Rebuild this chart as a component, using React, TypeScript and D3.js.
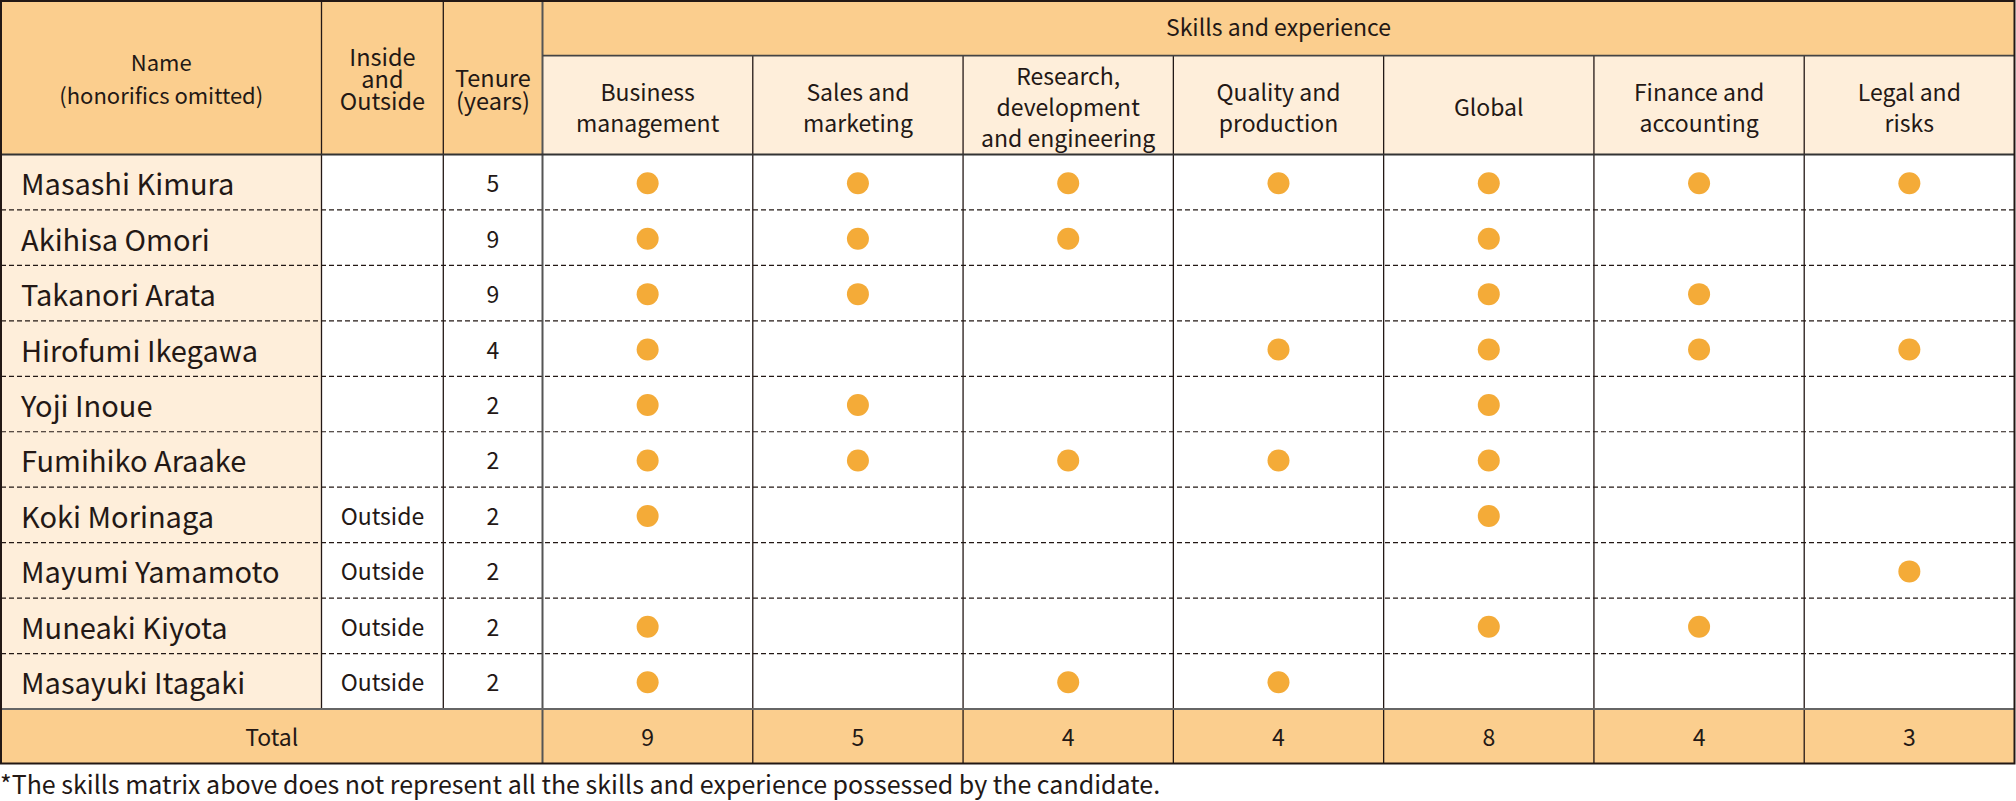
import React from "react";
import * as d3 from "d3";

const names = [
  "Masashi Kimura", "Akihisa Omori", "Takanori Arata", "Hirofumi Ikegawa", "Yoji Inoue",
  "Fumihiko Araake", "Koki Morinaga", "Mayumi Yamamoto", "Muneaki Kiyota", "Masayuki Itagaki",
];
const insideOutside = ["", "", "", "", "", "", "Outside", "Outside", "Outside", "Outside"];
const tenure = [5, 9, 9, 4, 2, 2, 2, 2, 2, 2];
const skills = [
  ["Business", "management"],
  ["Sales and", "marketing"],
  ["Research,", "development", "and engineering"],
  ["Quality and", "production"],
  ["Global"],
  ["Finance and", "accounting"],
  ["Legal and", "risks"],
];
// rows: names, cols: skills (1 = has)
const matrix = [
  [1, 1, 1, 1, 1, 1, 1],
  [1, 1, 1, 0, 1, 0, 0],
  [1, 1, 0, 0, 1, 1, 0],
  [1, 0, 0, 1, 1, 1, 1],
  [1, 1, 0, 0, 1, 0, 0],
  [1, 1, 1, 1, 1, 0, 0],
  [1, 0, 0, 0, 1, 0, 0],
  [0, 0, 0, 0, 0, 0, 1],
  [1, 0, 0, 0, 1, 1, 0],
  [1, 0, 1, 1, 0, 0, 0],
];
const totals = [9, 5, 4, 4, 8, 4, 3];
const footnote = "*The skills matrix above does not represent all the skills and experience possessed by the candidate.";

const ORANGE = "#FBCE8E";
const CREAM = "#FEEEDA";
const DOT = "#F4AB38";
const INK = "#231815";
const FONT = "'Noto Sans CJK JP', 'Noto Sans', sans-serif";

export default function App() {
  const W = 2016, H = 801;
  const left = 1, right = 2014.5, top = 1;
  const xName = 321.5, xIO = 443.3, xSkill = 542.5;
  const ySub = 55.7, yHead = 154.5, yTotal = 709, yBottom = 763.5;

  const col = d3.scaleBand<number>().domain(d3.range(skills.length)).range([xSkill, right]);
  const row = d3.scaleBand<number>().domain(d3.range(names.length)).range([yHead, yTotal]);
  const cw = col.bandwidth();
  const rh = row.bandwidth();

  const multiline = (lines: string[], cx: number, cy: number, lh: number, fs: number, key: string) => (
    <text key={key} x={cx} textAnchor="middle" fontSize={fs} fill={INK} fontFamily={FONT}>
      {lines.map((l, i) => (
        <tspan key={i} x={cx} y={cy + (i - (lines.length - 1) / 2) * lh} dominantBaseline="central">{l}</tspan>
      ))}
    </text>
  );

  return (
    <svg width={W} height={H} style={{ position: "absolute", left: 0, top: 0, display: "block", background: "#fff" }}>
      {/* backgrounds */}
      <rect x={left} y={top} width={right - left} height={yHead - top} fill={ORANGE} />
      <rect x={xSkill} y={ySub} width={right - xSkill} height={yHead - ySub} fill={CREAM} />
      <rect x={left} y={yHead} width={xName - left} height={yTotal - yHead} fill={CREAM} />
      <rect x={left} y={yTotal} width={right - left} height={yBottom - yTotal} fill={ORANGE} />

      {/* header text */}
      {multiline(["Name", "(honorifics omitted)"], (left + xName) / 2, 77, 33, 22, "hn")}
      {multiline(["Inside", "and", "Outside"], (xName + xIO) / 2, 78, 22, 23.5, "hio")}
      {multiline(["Tenure", "(years)"], (xIO + xSkill) / 2, 88, 23, 23.5, "ht")}
      {multiline(["Skills and experience"], (xSkill + right) / 2, 26, 30, 23, "hs")}
      {skills.map((s, j) => multiline(s, col(j)! + cw / 2, (ySub + yHead) / 2 + 1, 31, 23, "sk" + j))}

      {/* rows */}
      {names.map((n, i) => {
        const cy = row(i)! + rh / 2;
        return (
          <g key={n}>
            <text x={21} y={cy} dominantBaseline="central" fontSize={29} fill={INK} fontFamily={FONT}>{n}</text>
            <text x={(xName + xIO) / 2} y={cy} dominantBaseline="central" textAnchor="middle" fontSize={23} fill={INK} fontFamily={FONT}>{insideOutside[i]}</text>
            <text x={(xIO + xSkill) / 2} y={cy} dominantBaseline="central" textAnchor="middle" fontSize={23} fill={INK} fontFamily={FONT}>{tenure[i]}</text>
            {matrix[i].map((v, j) => v ? <circle key={j} cx={col(j)! + cw / 2} cy={cy + 1} r={11} fill={DOT} /> : null)}
          </g>
        );
      })}

      {/* total row */}
      <text x={(left + xSkill) / 2} y={(yTotal + yBottom) / 2} dominantBaseline="central" textAnchor="middle" fontSize={23} fill={INK} fontFamily={FONT}>Total</text>
      {totals.map((t, j) => (
        <text key={j} x={col(j)! + cw / 2} y={(yTotal + yBottom) / 2} dominantBaseline="central" textAnchor="middle" fontSize={23} fill={INK} fontFamily={FONT}>{t}</text>
      ))}

      {/* dashed row separators */}
      {d3.range(1, names.length).map((i) => (
        <line key={i} x1={left} x2={right} y1={row(i)!} y2={row(i)!} stroke={INK} strokeWidth={1.2} strokeDasharray="5,3" />
      ))}

      {/* vertical lines */}
      <line x1={xName} x2={xName} y1={top} y2={yTotal} stroke={INK} strokeWidth={1.3} />
      <line x1={xIO} x2={xIO} y1={top} y2={yTotal} stroke={INK} strokeWidth={1.3} />
      <line x1={xSkill} x2={xSkill} y1={top} y2={yBottom} stroke="#555" strokeWidth={2} />
      {d3.range(1, skills.length).map((j) => (
        <line key={j} x1={col(j)!} x2={col(j)!} y1={ySub} y2={yBottom} stroke={INK} strokeWidth={1.3} />
      ))}

      {/* horizontal solid lines */}
      <line x1={xSkill} x2={right} y1={ySub} y2={ySub} stroke="#444" strokeWidth={1.8} />
      <line x1={left} x2={right} y1={yHead} y2={yHead} stroke="#333" strokeWidth={2} />
      <line x1={left} x2={right} y1={yTotal} y2={yTotal} stroke="#666" strokeWidth={2} />

      {/* outer border */}
      <rect x={left} y={top} width={right - left} height={yBottom - top} fill="none" stroke={INK} strokeWidth={2} />

      {/* footnote */}
      <text x={0} y={783} dominantBaseline="central" fontSize={25} fill={INK} fontFamily={FONT}>{footnote}</text>
    </svg>
  );
}
